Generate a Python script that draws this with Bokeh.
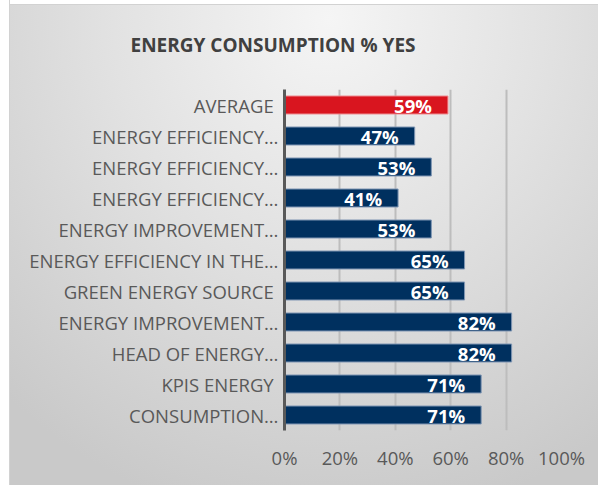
from bokeh.plotting import figure
from bokeh.models import Range1d, FixedTicker, NumeralTickFormatter, ColumnDataSource
from bokeh.core.properties import value
from bokeh.embed import file_html
from bokeh.resources import INLINE

# ---- data (top to bottom) ----
categories = [
    "AVERAGE\u00a0",
    "ENERGY EFFICIENCY…",
    "ENERGY EFFICIENCY…",
    "ENERGY EFFICIENCY…",
    "ENERGY IMPROVEMENT…",
    "ENERGY EFFICIENCY IN THE…",
    "GREEN ENERGY SOURCE\u00a0",
    "ENERGY IMPROVEMENT…",
    "HEAD OF ENERGY…",
    "KPIS ENERGY\u00a0",
    "CONSUMPTION…",
]
values = [0.59, 0.47, 0.53, 0.41, 0.53, 0.65, 0.65, 0.82, 0.82, 0.71, 0.71]
x_ticks = [0, 0.2, 0.4, 0.6, 0.8, 1.0]
title_text = "ENERGY CONSUMPTION % YES"

NAVY = "#00305f"
RED = "#d9151f"

n = len(categories)
positions = [n - 1 - i for i in range(n)]
fills = [RED if i == 0 else NAVY for i in range(n)]
edges = ["#ee8a8f" if i == 0 else "#7e95b3" for i in range(n)]
labels = [f"{round(v * 100)}%" for v in values]

src = ColumnDataSource(dict(pos=positions, val=values, fill=fills, edge=edges, lab=labels))

W, H = 598, 485
p = figure(
    width=W, height=H,
    x_range=Range1d(0, 1.0), y_range=Range1d(-0.5, n - 0.5),
    output_backend="svg", toolbar_location=None,
    min_border_left=284, min_border_right=37, min_border_top=89, min_border_bottom=55,
)
p.styles = {"background": (
    "linear-gradient(to right, #ffffff 0px, #ffffff 9px, #d2d2d2 9px, #d2d2d2 10px, rgba(0,0,0,0) 10px), "
    "linear-gradient(to bottom, #ffffff 0px, #ffffff 4px, #d2d2d2 4px, #d2d2d2 5px, rgba(0,0,0,0) 5px), "
    "radial-gradient(ellipse 80% 105% at 55% 4%, #f5f5f5 0%, #e2e2e2 45%, #c9c9c9 100%)"
)}
p.background_fill_alpha = 0
p.border_fill_alpha = 0
p.outline_line_color = None

p.xgrid.grid_line_color = "#bdbdbd"
p.xgrid.grid_line_width = 2
p.ygrid.grid_line_color = None

p.hbar(y="pos", left=0, right="val", height=0.58, fill_color="fill",
       line_color="edge", line_width=1, source=src)
p.text(x="val", y="pos", text="lab", source=src, x_offset=-16,
       text_align="right", text_baseline="middle", text_color="white",
       text_font=value("Open Sans"), text_font_style="bold", text_font_size="18.5px")

# title
p.title.text = title_text
p.title.align = "left"
p.title.offset = -154
p.title.vertical_align = "middle"
p.title.standoff = 61
p.title.text_font = "Open Sans"
p.title.text_font_size = "19px"
p.title.text_font_style = "bold"
p.title.text_color = "#404040"

# x axis
p.xaxis.ticker = FixedTicker(ticks=x_ticks)
p.xaxis.formatter = NumeralTickFormatter(format="0%")
p.xaxis.axis_line_color = None
p.xaxis.major_tick_line_color = None
p.xaxis.minor_tick_line_color = None
p.xaxis.major_label_standoff = 8
p.xaxis.major_label_text_font = "Open Sans"
p.xaxis.major_label_text_font_size = "18.5px"
p.xaxis.major_label_text_color = "#595959"

# y axis
p.yaxis.ticker = FixedTicker(ticks=positions)
p.yaxis.major_label_overrides = {pos: lab for pos, lab in zip(positions, categories)}
p.yaxis.axis_line_color = "#595959"
p.yaxis.axis_line_width = 3
p.yaxis.major_tick_line_color = None
p.yaxis.minor_tick_line_color = None
p.yaxis.major_label_standoff = 0
p.yaxis.major_label_text_font = "Open Sans"
p.yaxis.major_label_text_font_size = "18.5px"
p.yaxis.major_label_text_color = "#595959"

open("out.html", "w").write(file_html(p, INLINE))
